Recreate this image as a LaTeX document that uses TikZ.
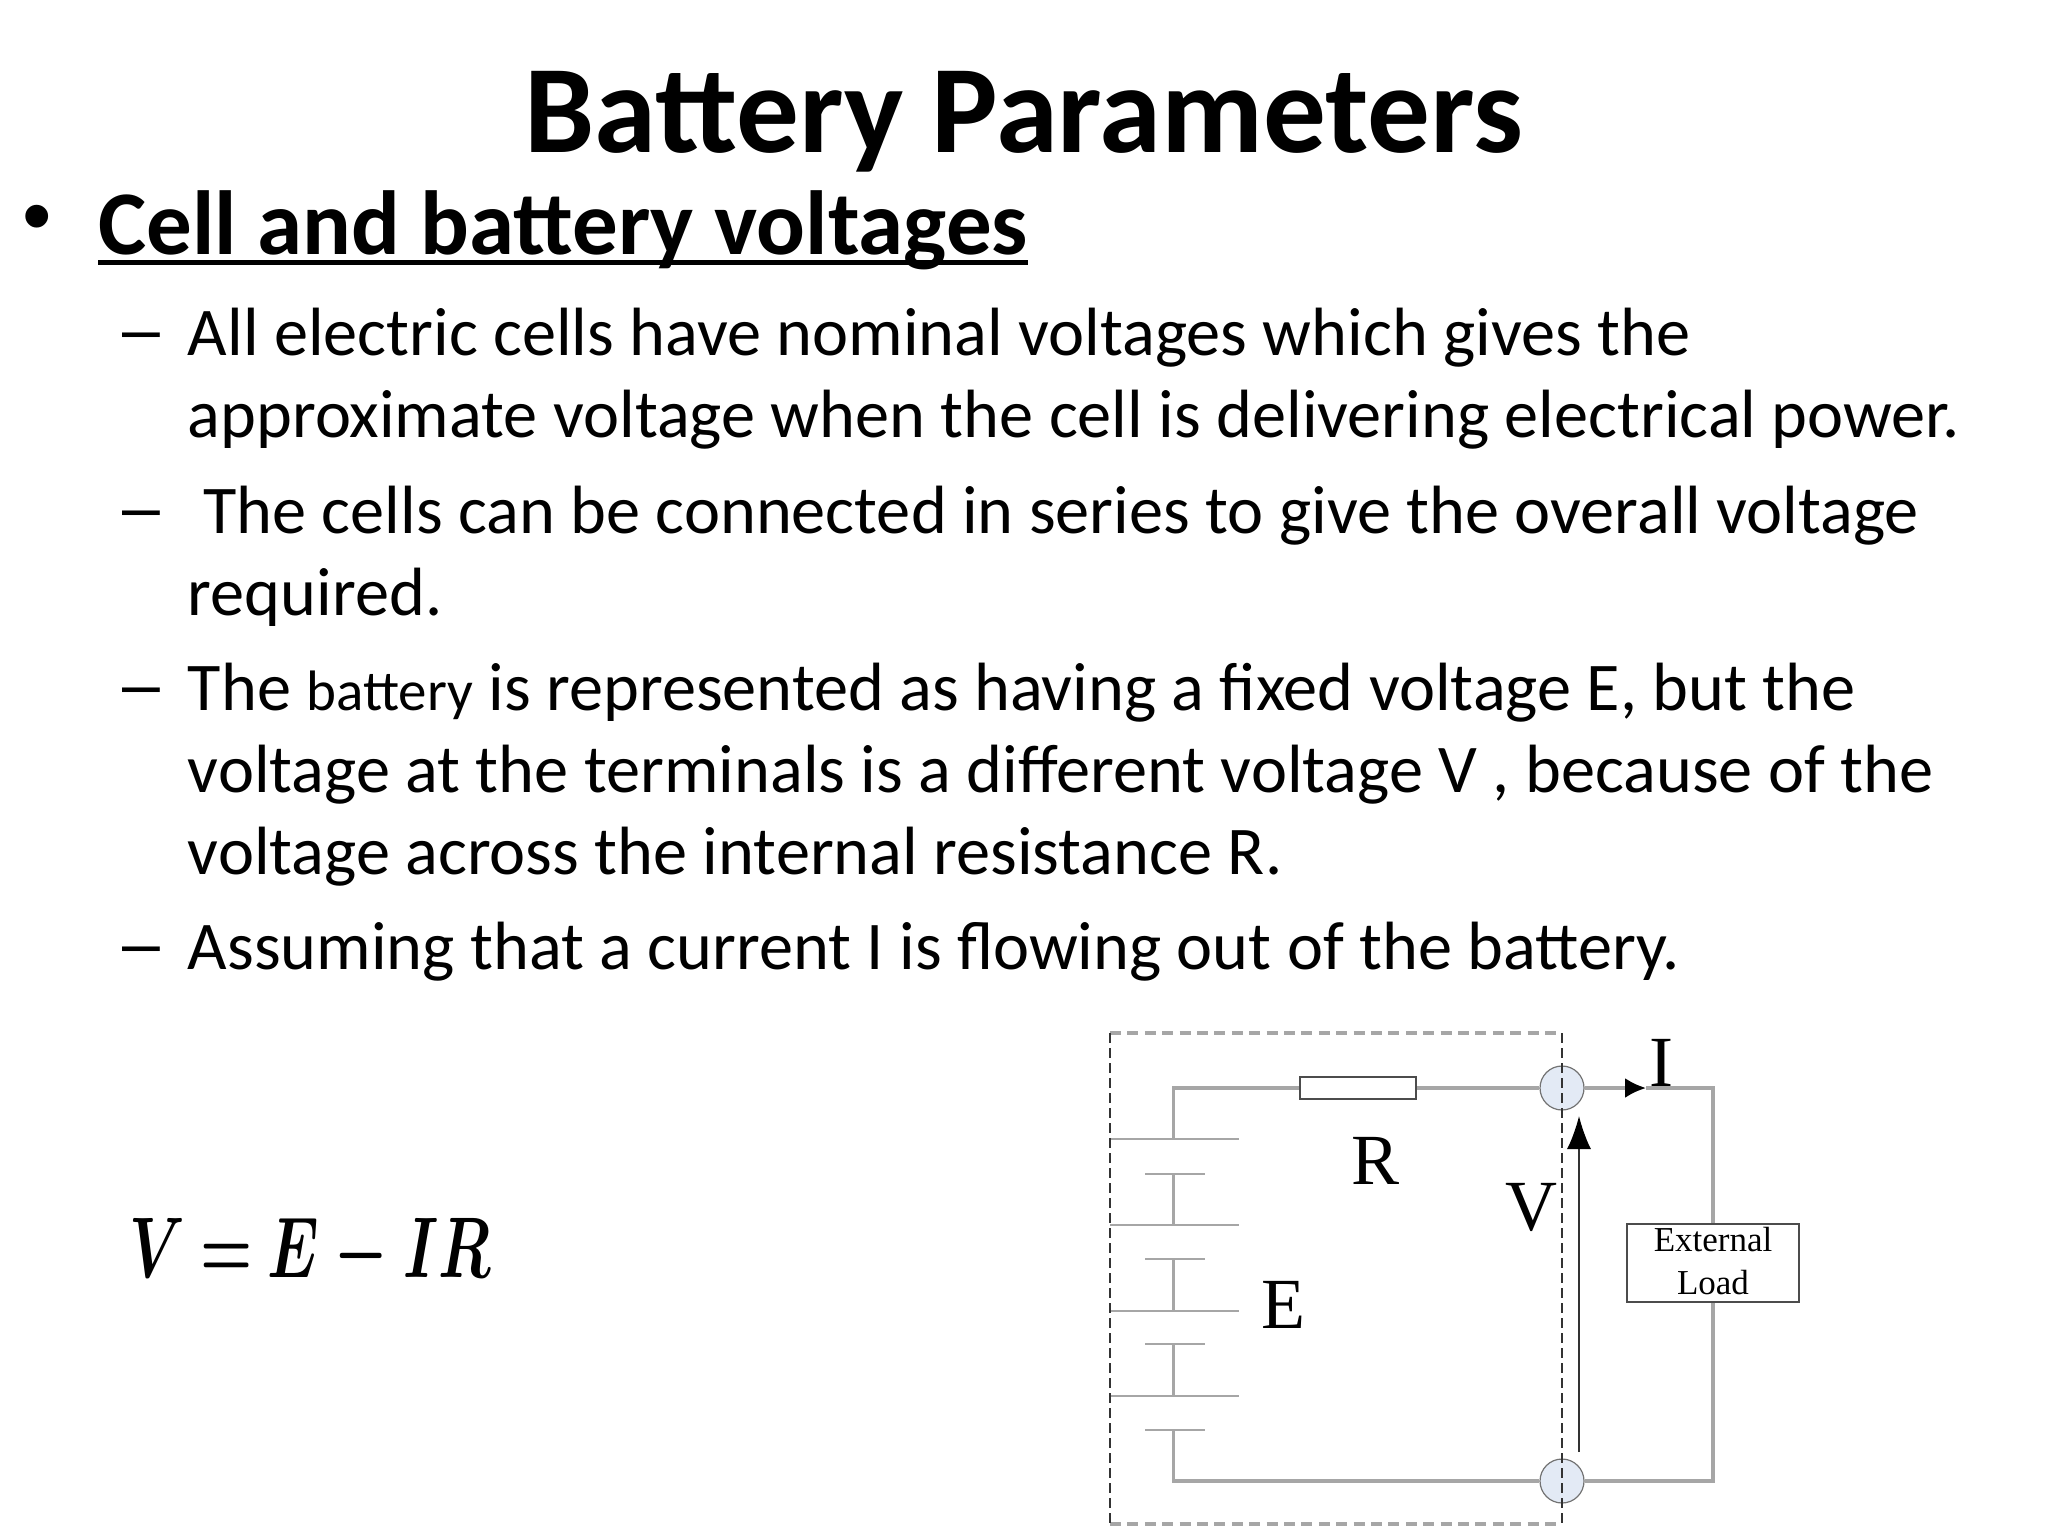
\documentclass[tikz,border=0pt]{standalone}
\usepackage{fontspec}
\usepackage{amsmath}
\setmainfont{Carlito}
\newfontfamily\circuitfont{Liberation Serif}
\newfontfamily\markfont{Liberation Sans}
\usetikzlibrary{arrows.meta}
\usetikzlibrary{shapes.geometric}
\definecolor{wiregray}{HTML}{A6A6A6}
\definecolor{termblue}{HTML}{E3EAF5}
\tikzset{
  line text/.style={anchor=base west, inner sep=0pt, font=\fontsize{34.15}{34.15}\selectfont},
  dash mark/.style={anchor=base west, inner sep=0pt, font=\markfont\fontsize{34}{34}\selectfont},
  wire/.style={draw=wiregray, line width=1.6pt},
  plate/.style={draw=wiregray, line width=1.3pt},
  term/.style={draw=black!55, fill=termblue, line width=.6pt, circle, minimum size=22pt, inner sep=0pt},
  big label/.style={inner sep=0pt, anchor=base, font=\circuitfont\fontsize{36}{36}\selectfont},
  small label/.style={inner sep=0pt, anchor=base, font=\circuitfont\fontsize{17.5}{17.5}\selectfont},
}

\begin{document}
\begin{tikzpicture}[x=.5pt, y=-.5pt]
  \useasboundingbox (0,0) rectangle (2048,1536);

  % heading and text
  \node[anchor=base, inner sep=0pt, font=\bfseries\fontsize{62.6}{62.6}\selectfont] (title) at (1024,152) {Battery Parameters};
  \node[anchor=base west, inner sep=0pt, font=\markfont\fontsize{42}{42}\selectfont] (bullet) at (22,244) {•};
  \node[anchor=base west, inner sep=0pt, font=\bfseries\fontsize{45.5}{45.5}\selectfont] (head) at (98,254) {Cell and battery voltages};
  \draw[line width=2.8pt] ([yshift=-4.3pt]head.base west) -- ([yshift=-4.3pt]head.base east);

  \foreach \n/\y in {a/352, b/530, c/707, d/966}
    \node[dash mark] (dash\n) at (122,\y) {–};

  \node[line text] (l1) at (187.5,355) {All electric cells have nominal voltages which gives the};
  \node[line text] (l2) at (187.5,437) {approximate voltage when the cell is delivering electrical power.};
  \node[line text] (l3) at (187.5,533) { \ The cells can be connected in series to give the overall voltage};
  \node[line text] (l4) at (187.5,615) {required.};
  \node[line text] (l5) at (187.5,710) {The {\fontsize{28.5}{28.5}\selectfont battery} is represented as having a fixed voltage E, but the};
  \node[line text] (l6) at (187.5,792) {voltage at the terminals is a different voltage V , because of the};
  \node[line text] (l7) at (187.5,874) {voltage across the internal resistance R.};
  \node[line text] (l8) at (187.5,969) {Assuming that a current I is flowing out of the battery.};

  \node[anchor=base west, inner sep=0pt, xscale=1.2, yscale=1.73, transform shape, font=\fontsize{24.88}{24.88}\selectfont\boldmath] (eqn) at (129,1277) {$\thickmuskip=\medmuskip V=E-IR$};

  % circuit
  \coordinate (boxnw) at (1110,1033);
  \coordinate (boxne) at (1562,1033);
  \coordinate (boxsw) at (1110,1524);
  \coordinate (boxse) at (1562,1524);
  \coordinate (topleft) at (1173.5,1088);
  \coordinate (botleft) at (1173.5,1481);
  \coordinate (topright) at (1713,1088);
  \coordinate (botright) at (1713,1481);
  \coordinate (itip) at (1646,1088);
  \coordinate (vfoot) at (1579,1452);
  \coordinate (vtip) at (1579,1116);

  \node[draw=black!70, fill=white, line width=1pt, minimum width=58pt, minimum height=11pt, inner sep=0pt] (res) at (1358,1088) {};
  \node[term] (jtop) at (1562,1088) {};
  \node[term] (jbot) at (1562,1481) {};
  \node[draw=black!70, line width=1pt, minimum width=86pt, minimum height=39pt, inner sep=0pt] (load) at (1713,1263) {};

  \foreach \i/\ya/\yb in {1/1139/1174, 2/1225/1259, 3/1311/1344, 4/1396/1430} {
    \coordinate (lg\i a) at (1110,\ya);
    \coordinate (lg\i) at (1173.5,\ya);
    \coordinate (lg\i b) at (1239,\ya);
    \coordinate (sh\i a) at (1145,\yb);
    \coordinate (sh\i) at (1173.5,\yb);
    \coordinate (sh\i b) at (1205,\yb);
    \draw[plate] (lg\i a) -- (lg\i b);
    \draw[plate] (sh\i a) -- (sh\i b);
  }
  \draw[plate] (sh1) -- (lg2);
  \draw[plate] (sh2) -- (lg3);
  \draw[plate] (sh3) -- (lg4);

  \draw[wire] (lg1) -- (topleft) -- (res.west);
  \draw[wire] (res.east) -- (jtop.west);
  \draw[wire, -{Latex[black, length=10.5pt, width=10pt]}] (jtop.east) -- (itip);
  \draw[wire] (itip) -- (topright) -- (load.north);
  \draw[wire] (load.south) -- (botright) -- (jbot.east);
  \draw[wire] (jbot.west) -- (botleft) -- (sh4);

  \draw[draw=wiregray, line width=2pt, dash pattern=on 5.5pt off 3.2pt] (boxnw) -- (boxne);
  \draw[draw=wiregray, line width=2pt, dash pattern=on 5.5pt off 3.2pt] (boxsw) -- (boxse);
  \draw[black!80, line width=.6pt, dash pattern=on 5pt off 2.5pt] (boxnw) -- (boxsw);
  \draw[black!80, line width=.6pt, dash pattern=on 5pt off 2.5pt] (boxne) -- (boxse);

  \draw[black!80, line width=.8pt, -{Latex[black, length=16.5pt, width=12pt]}] (vfoot) -- (vtip);

  \node[big label] (lblI) at (1661,1086) {I};
  \node[big label] (lblR) at (1375,1184) {R};
  \node[big label] (lblV) at (1531,1230) {V};
  \node[big label] (lblE) at (1283,1328) {E};
  \node[small label] (ext) at (1713,1251) {External};
  \node[small label] (lod) at (1713,1294) {Load};
\end{tikzpicture}
\end{document}
